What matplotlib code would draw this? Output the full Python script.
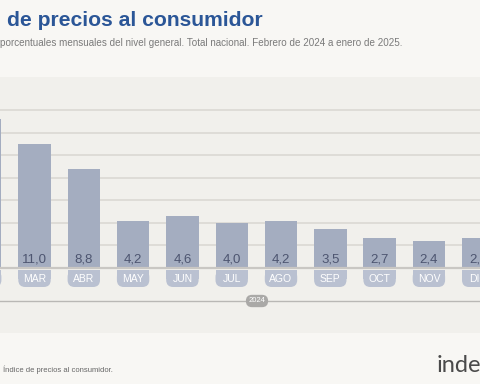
import numpy as np
import matplotlib
matplotlib.use('Agg')
import matplotlib.pyplot as plt
from matplotlib.patches import FancyBboxPatch

# datos: variacion mensual IPC (%)
meses = ['FEB', 'MAR', 'ABR', 'MAY', 'JUN', 'JUL', 'AGO', 'SEP', 'OCT', 'NOV', 'DIC']
valores = [13.2, 11.0, 8.8, 4.2, 4.6, 4.0, 4.2, 3.5, 2.7, 2.4, 2.7]
anio = '2024'
grid_vals = [2, 4, 6, 8, 10, 12, 14]

W, H = 480, 384
bg = '#f8f7f4'
panel = '#f1f0ec'
bar_col = '#a4adc0'
tab_col = '#bac1d1'
val_col = '#4d5570'

plt.rcParams['font.family'] = ['Liberation Sans', 'DejaVu Sans']

fig = plt.figure(figsize=(W / 100, H / 100), dpi=100, facecolor=bg)

def fx(px):
    return px / W

def fy(py):
    return 1 - py / H

# panel del grafico
ax = fig.add_axes([0, fy(333), 1, fy(77) - fy(333)])
ax.set_facecolor(panel)
for s in ax.spines.values():
    s.set_visible(False)
ax.set_xticks([])
ax.set_yticks([])

px_unit = 11.27   # px por punto porcentual
step = 49.3       # px entre barras
x0 = -14.8        # centro de FEB en px
ax.set_xlim((0 - x0) / step, (W - x0) / step)
ax.set_ylim(-(333 - 268) / px_unit, (268 - 77) / px_unit)

for g in grid_vals:
    ax.axhline(g, color='#dcdad5', lw=1.3, zorder=1)
ax.axhline(0, color='#c9c7c3', lw=1.6, zorder=3)

x = np.arange(len(meses))
bw = 32.4 / step
ax.bar(x, valores, width=bw, color=bar_col, zorder=2)

# pestañas de los meses
ux = 1 / step
uy = 1 / px_unit
t_top = -2 * uy
t_bot = -19 * uy
r = 7 * ux
for i, m in enumerate(meses):
    ax.add_patch(FancyBboxPatch((i - bw / 2, t_bot), bw, t_top - t_bot,
                                boxstyle='round,pad=0,rounding_size=%f' % r,
                                mutation_aspect=uy / ux, fc=tab_col, ec='none', zorder=2))
    ax.add_patch(plt.Rectangle((i - bw / 2, (t_top + t_bot) / 2), bw, (t_top - t_bot) / 2,
                               fc=tab_col, ec='none', zorder=2))
    # FEB queda fuera del recorte, sin textos visibles
    if x0 + i * step < 0:
        continue
    ax.text(i, (t_top + t_bot) / 2, m, ha='center', va='center', color='white',
            fontsize=7.5, zorder=4)
    ax.text(i, 8 * uy, ('%.1f' % valores[i]).replace('.', ','), ha='center', va='center',
            color=val_col, fontsize=9.5, zorder=4)

# linea del año
ax.axhline(-33 * uy, color='#b9b8b5', lw=1.0, zorder=1)
ax.text((257 - x0) / step, -33 * uy, anio, ha='center', va='center', color='white',
        fontsize=5.5, zorder=4,
        bbox=dict(boxstyle='round,pad=0.35,rounding_size=0.8', fc='#aaa9a7', ec='none'))

# textos
fig.text(fx(7), fy(21), 'de precios al consumidor', ha='left', va='center',
         color='#2b5697', fontsize=15.2, fontweight='bold')
fig.text(fx(403), fy(43), 'porcentuales mensuales del nivel general. Total nacional. Febrero de 2024 a enero de 2025.',
         ha='right', va='center', color='#7a7a7a', fontsize=7.1)
fig.text(fx(3), fy(370), 'Índice de precios al consumidor.', ha='left', va='center',
         color='#666666', fontsize=5.5)
fig.text(fx(437), fy(366), 'inde', ha='left', va='center', color='#4a4a4a',
         fontsize=17, family=['Lato', 'DejaVu Sans'], fontweight='normal')

fig.savefig('out.png', dpi=100, facecolor=bg)
